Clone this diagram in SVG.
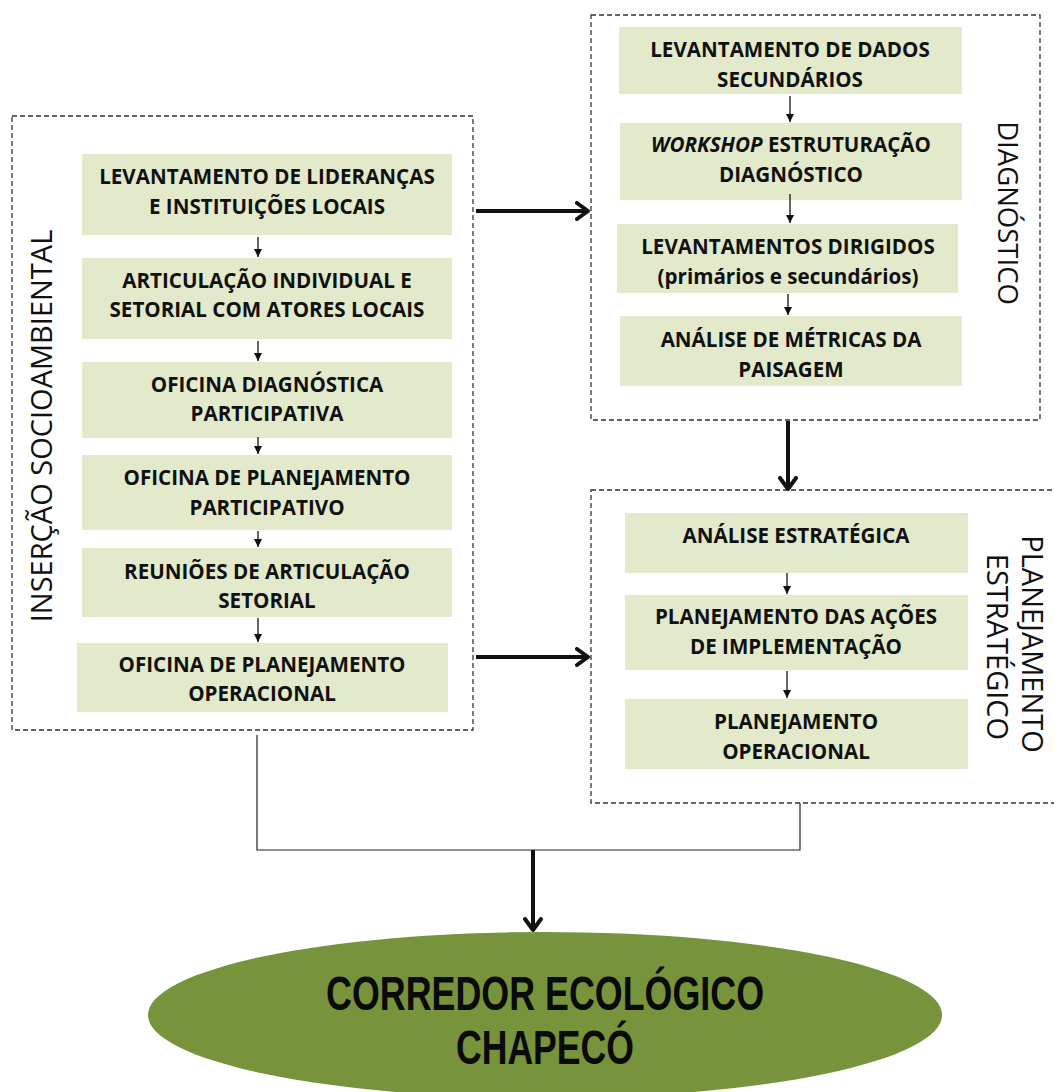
<svg xmlns="http://www.w3.org/2000/svg" width="1054" height="1092" viewBox="0 0 1054 1092">
<style>
.frame{fill:none;stroke:#333;stroke-width:1.3;stroke-dasharray:5 3}
.box{fill:#e2eacb}
.t{font-family:"Open Sans","Liberation Sans",sans-serif;font-weight:bold;font-size:20.6px;fill:#111;text-anchor:middle}
.lab{font-family:"Open Sans","Liberation Sans",sans-serif;font-size:29px;fill:#111;text-anchor:middle}
.big{font-family:"Liberation Sans",Arial,sans-serif;font-weight:bold;font-size:48px;fill:#0a0a0a;text-anchor:middle}
.thin{stroke:#111;stroke-width:1.3;fill:none}
.thick{stroke:#111;stroke-width:4;fill:none}
.line{stroke:#222;stroke-width:1.2;fill:none}
</style>
<defs>
<marker id="sm" markerWidth="10" markerHeight="10" refX="9" refY="5" orient="auto" markerUnits="userSpaceOnUse">
<path d="M1,1 L9,5 L1,9 Z" fill="#111"/>
</marker>
<marker id="big" markerWidth="16" markerHeight="20" refX="13" refY="10" orient="auto" markerUnits="userSpaceOnUse">
<path d="M2,2 L13,10 L2,18" fill="none" stroke="#111" stroke-width="4" stroke-linecap="round" stroke-linejoin="round"/>
</marker>
</defs>
<rect width="1054" height="1092" fill="#fff"/>

<g id="insercao">
<rect class="frame" x="12" y="116" width="461" height="614"/>
<text class="lab" transform="translate(52,426) rotate(-90)">INSERÇÃO SOCIOAMBIENTAL</text>
</g>
<g id="n1"><rect class="box" x="82" y="154" width="370" height="81"/><text class="t" x="267" y="184">LEVANTAMENTO DE LIDERANÇAS</text><text class="t" x="267" y="214">E INSTITUIÇÕES LOCAIS</text></g>
<g id="n2"><rect class="box" x="82" y="258" width="370" height="81"/><text class="t" x="267" y="288">ARTICULAÇÃO INDIVIDUAL E</text><text class="t" x="267" y="317">SETORIAL COM ATORES LOCAIS</text></g>
<g id="n3"><rect class="box" x="82" y="362" width="370" height="76"/><text class="t" x="267" y="392">OFICINA DIAGNÓSTICA</text><text class="t" x="267" y="421">PARTICIPATIVA</text></g>
<g id="n4"><rect class="box" x="82" y="455" width="370" height="75"/><text class="t" x="267" y="485">OFICINA DE PLANEJAMENTO</text><text class="t" x="267" y="515">PARTICIPATIVO</text></g>
<g id="n5"><rect class="box" x="82" y="548" width="370" height="69"/><text class="t" x="267" y="579">REUNIÕES DE ARTICULAÇÃO</text><text class="t" x="267" y="608">SETORIAL</text></g>
<g id="n6"><rect class="box" x="77" y="643" width="371" height="69"/><text class="t" x="262" y="672">OFICINA DE PLANEJAMENTO</text><text class="t" x="262" y="701">OPERACIONAL</text></g>

<g id="diagnostico">
<rect class="frame" x="591" y="15" width="449" height="405"/>
<text class="lab" transform="translate(998,213) rotate(90)" style="font-size:27.5px">DIAGNÓSTICO</text>
</g>
<g id="d1"><rect class="box" x="619" y="27" width="343" height="67"/><text class="t" x="790" y="57">LEVANTAMENTO DE DADOS</text><text class="t" x="790" y="87">SECUNDÁRIOS</text></g>
<g id="d2"><rect class="box" x="620" y="123" width="342" height="77"/><text class="t" x="791" y="152"><tspan font-style="italic">WORKSHOP</tspan> ESTRUTURAÇÃO</text><text class="t" x="791" y="182">DIAGNÓSTICO</text></g>
<g id="d3"><rect class="box" x="617" y="224" width="341" height="69"/><text class="t" x="788" y="254">LEVANTAMENTOS DIRIGIDOS</text><text class="t" x="788" y="284">(primários e secundários)</text></g>
<g id="d4"><rect class="box" x="620" y="316" width="342" height="70"/><text class="t" x="791" y="347">ANÁLISE DE MÉTRICAS DA</text><text class="t" x="791" y="377">PAISAGEM</text></g>

<g id="planejamento">
<rect class="frame" x="591" y="490" width="480" height="313"/>
<text class="lab" transform="translate(1022,644) rotate(90)">PLANEJAMENTO</text>
<text class="lab" transform="translate(987,647) rotate(90)">ESTRATÉGICO</text>
</g>
<g id="p1"><rect class="box" x="625" y="513" width="343" height="60"/><text class="t" x="796" y="543">ANÁLISE ESTRATÉGICA</text></g>
<g id="p2"><rect class="box" x="625" y="595" width="343" height="75"/><text class="t" x="796" y="624">PLANEJAMENTO DAS AÇÕES</text><text class="t" x="796" y="654">DE IMPLEMENTAÇÃO</text></g>
<g id="p3"><rect class="box" x="625" y="699" width="343" height="70"/><text class="t" x="796" y="729">PLANEJAMENTO</text><text class="t" x="796" y="759">OPERACIONAL</text></g>

<g id="corredor">
<ellipse cx="545" cy="1015" rx="397" ry="83" fill="#77933c"/>
<text class="big" x="545" y="1010" textLength="438" lengthAdjust="spacingAndGlyphs">CORREDOR ECOLÓGICO</text>
<text class="big" x="545" y="1064" textLength="178" lengthAdjust="spacingAndGlyphs">CHAPECÓ</text>
</g>

<g id="connectors">
<line class="thin" x1="258" y1="237" x2="258" y2="257" marker-end="url(#sm)"/>
<line class="thin" x1="258" y1="341" x2="258" y2="361" marker-end="url(#sm)"/>
<line class="thin" x1="258" y1="437" x2="258" y2="454" marker-end="url(#sm)"/>
<line class="thin" x1="258" y1="531" x2="258" y2="547" marker-end="url(#sm)"/>
<line class="thin" x1="258" y1="618" x2="258" y2="642" marker-end="url(#sm)"/>
<line class="thin" x1="790" y1="96" x2="790" y2="122" marker-end="url(#sm)"/>
<line class="thin" x1="790" y1="194" x2="790" y2="223" marker-end="url(#sm)"/>
<line class="thin" x1="788" y1="294" x2="788" y2="315" marker-end="url(#sm)"/>
<line class="thin" x1="787" y1="573" x2="787" y2="594" marker-end="url(#sm)"/>
<line class="thin" x1="787" y1="671" x2="787" y2="698" marker-end="url(#sm)"/>
<line class="thick" x1="476" y1="211" x2="588" y2="211" marker-end="url(#big)"/>
<line class="thick" x1="476" y1="657" x2="588" y2="657" marker-end="url(#big)"/>
<line class="thick" x1="788" y1="421" x2="788" y2="489" marker-end="url(#big)"/>
<polyline class="line" points="257,735 257,850 800,850 800,803"/>
<line class="thick" x1="533" y1="850" x2="533" y2="930" marker-end="url(#big)"/>
</g>
</svg>
